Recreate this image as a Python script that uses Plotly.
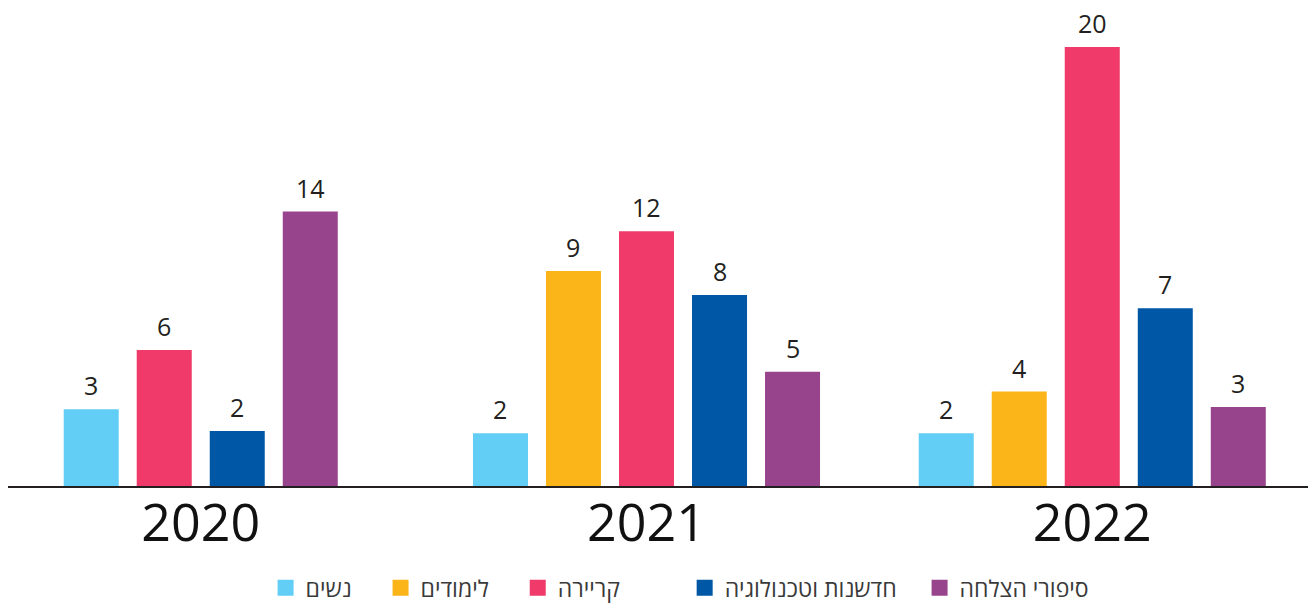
import plotly.graph_objects as go

# ---- data ----
years = ["2020", "2021", "2022"]
series_names = ["נשים", "לימודים", "קריירה", "חדשנות וטכנולוגיה", "סיפורי הצלחה"]
series_colors = ["#62CDF5", "#FCB518", "#EF3A6A", "#0057A6", "#98448C"]

# bar heights as drawn
nashim_h = [3.5, 2.4, 2.4]
limudim_h = [None, 9.8, 4.3]
kariera_h = [6.2, 11.6, 20.0]
hadshanut_h = [2.5, 8.7, 8.1]
sipurei_h = [12.5, 5.2, 3.6]

# value labels printed above bars
nashim_lbl = [3, 2, 2]
limudim_lbl = [None, 9, 4]
kariera_lbl = [6, 12, 20]
hadshanut_lbl = [2, 8, 7]
sipurei_lbl = [14, 5, 3]

heights = [nashim_h, limudim_h, kariera_h, hadshanut_h, sipurei_h]
labels = [nashim_lbl, limudim_lbl, kariera_lbl, hadshanut_lbl, sipurei_lbl]

# ---- layout constants ----
SLOT = 0.1638   # distance between neighbouring bars, in group units
BAR_W = 0.1234  # bar width, in group units
FONT = "Open Sans"
LEGEND_PAD = [4, 4, 10, 3, 0]   # extra non-breaking spaces after each legend entry

# compute bar positions: present bars centred within each year group
positions = [[None] * len(years) for _ in series_names]
for yi in range(len(years)):
    present = [si for si in range(len(series_names)) if heights[si][yi] is not None]
    n = len(present)
    for k, si in enumerate(present):
        positions[si][yi] = yi + (k - (n - 1) / 2) * SLOT

fig = go.Figure()
annotations = []
for si, name in enumerate(series_names):
    xs, ys = [], []
    for yi in range(len(years)):
        if heights[si][yi] is None:
            continue
        xs.append(positions[si][yi])
        ys.append(heights[si][yi])
        annotations.append(dict(
            x=positions[si][yi], y=heights[si][yi], xref="x", yref="y",
            text=str(labels[si][yi]), showarrow=False,
            yanchor="bottom", yshift=5,
            font=dict(family=FONT, size=25, color="#231F20"),
        ))
    fig.add_trace(go.Bar(
        x=xs, y=ys, width=BAR_W, name=name,
        marker=dict(color=series_colors[si], line=dict(width=0)),
        showlegend=False, hoverinfo="skip",
    ))
    # legend proxy with a square swatch
    fig.add_trace(go.Scatter(
        x=[None], y=[None], mode="markers",
        name=name + "\u00a0" * LEGEND_PAD[si],
        marker=dict(symbol="square", size=18, color=series_colors[si]),
        showlegend=True,
    ))

fig.update_layout(
    width=1311, height=604,
    margin=dict(l=8, r=3, t=0, b=118),
    paper_bgcolor="white", plot_bgcolor="white",
    barmode="overlay",
    showlegend=True,
    annotations=annotations,
    legend=dict(
        orientation="h", x=0.517, xanchor="center",
        yref="container", y=0.027, yanchor="middle",
        font=dict(family=FONT, size=23, color="#3A3A3A"),
        itemwidth=30, traceorder="normal",
    ),
    font=dict(family=FONT),
)
fig.update_xaxes(
    range=[-0.4324, 2.484],
    tickmode="array", tickvals=list(range(len(years))), ticktext=years,
    tickfont=dict(family=FONT, size=52, color="#111111"),
    ticks="", showgrid=False, zeroline=False,
    showline=True, linecolor="#231F20", linewidth=2,
    ticklabelstandoff=-9,
    fixedrange=True,
)
fig.update_yaxes(
    range=[0, 22.14], visible=False, showgrid=False, zeroline=False, fixedrange=True,
)

fig.write_html("out.html", config={"displayModeBar": False},
               post_script="document.body.style.margin='0';")
